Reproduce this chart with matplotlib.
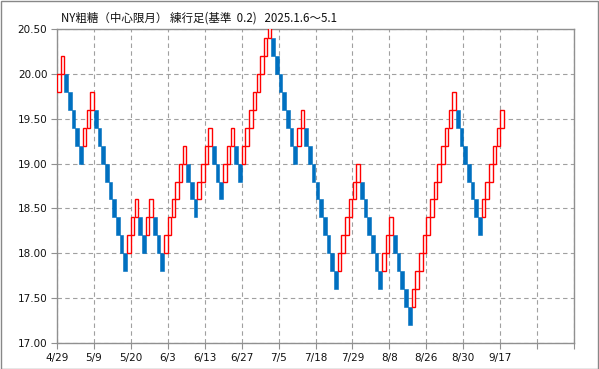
import numpy as np
import matplotlib
matplotlib.use('Agg')
import matplotlib.pyplot as plt
from matplotlib.patches import Rectangle

# renko bricks (box size 0.2): lower edge of each brick and its direction
brick_low = [19.8, 20.0, 19.8, 19.6, 19.4, 19.2, 19.0, 19.2, 19.4, 19.6,
             19.4, 19.2, 19.0, 18.8, 18.6, 18.4, 18.2, 18.0, 17.8, 18.0,
             18.2, 18.4, 18.2, 18.0, 18.2, 18.4, 18.2, 18.0, 17.8, 18.0,
             18.2, 18.4, 18.6, 18.8, 19.0, 18.8, 18.6, 18.4, 18.6, 18.8,
             19.0, 19.2, 19.0, 18.8, 18.6, 18.8, 19.0, 19.2, 19.0, 18.8,
             19.0, 19.2, 19.4, 19.6, 19.8, 20.0, 20.2, 20.4, 20.2, 20.0,
             19.8, 19.6, 19.4, 19.2, 19.0, 19.2, 19.4, 19.2, 19.0, 18.8,
             18.6, 18.4, 18.2, 18.0, 17.8, 17.6, 17.8, 18.0, 18.2, 18.4,
             18.6, 18.8, 18.6, 18.4, 18.2, 18.0, 17.8, 17.6, 17.8, 18.0,
             18.2, 18.0, 17.8, 17.6, 17.4, 17.2, 17.4, 17.6, 17.8, 18.0,
             18.2, 18.4, 18.6, 18.8, 19.0, 19.2, 19.4, 19.6, 19.4, 19.2,
             19.0, 18.8, 18.6, 18.4, 18.2, 18.4, 18.6, 18.8, 19.0, 19.2,
             19.4]
# u = rising (red outline), d = falling (blue)
brick_dir = ('uu' 'ddddd' 'uuu' 'ddddddddd' 'uuu' 'dd' 'uu' 'ddd' 'uuuuuu'
             'ddd' 'uuuu' 'ddd' 'uuu' 'dd' 'uuuuuuuu' 'ddddddd' 'uu'
             'ddddddddd' 'uuuuuu' 'dddddd' 'uuu' 'ddddd' 'uuuuuuuuuuuu'
             'ddddddd' 'uuuuuu')
box = 0.2

date_labels = ['4/29', '5/9', '5/20', '6/3', '6/13', '6/27', '7/5', '7/18',
               '7/29', '8/8', '8/26', '8/30', '9/17', '', '']
n_slots = 140
title = 'NY粗糖（中心限月） 練行足(基準  0.2)   2025.1.6～5.1'

W, H = 599, 369
fig = plt.figure(figsize=(W / 100, H / 100), dpi=100)
ax = fig.add_axes([57 / W, (H - 343) / H, (574 - 57) / W, (343 - 29) / H])

x = np.arange(len(brick_low)) + 0.5
low = np.array(brick_low)
up = np.array([c == 'u' for c in brick_dir])

ax.bar(x[~up], box, bottom=low[~up], width=1.0, color='#0070C0',
       edgecolor='#0070C0', linewidth=0.4, zorder=3)
ax.bar(x[up], box, bottom=low[up], width=0.95, facecolor='white',
       edgecolor='#FF0000', linewidth=1.0, zorder=3)

ax.set_xlim(0, n_slots)
ax.set_ylim(17.0, 20.5)
ax.set_yticks(np.arange(17.0, 20.51, 0.5))
ax.set_yticklabels([f'{v:.2f}' for v in np.arange(17.0, 20.51, 0.5)])
ax.set_xticks(np.arange(0, n_slots + 1, 10))
ax.set_xticklabels(date_labels)

ax.grid(True, color='#A0A0A0', linestyle=(0, (4, 3)), linewidth=0.8, zorder=0)
for s in ax.spines.values():
    s.set_color('#909090')
    s.set_linewidth(1.0)
ax.tick_params(axis='both', colors='#909090', labelcolor='#111111',
               labelsize=7.5, length=4, width=0.8)
ax.tick_params(axis='x', pad=3)
ax.tick_params(axis='y', pad=3)

fig.text(61 / W, 1 - 18 / H, title, fontsize=8.3, va='center', ha='left',
         family=['Noto Sans CJK JP', 'DejaVu Sans'], color='#111111')

fig.patches.append(Rectangle((0.5 / W, 0.5 / H), 1 - 1.5 / W, 1 - 1.5 / H,
                             transform=fig.transFigure, fill=False,
                             edgecolor='#888888', linewidth=1.0))

fig.savefig('out.png', dpi=100)
